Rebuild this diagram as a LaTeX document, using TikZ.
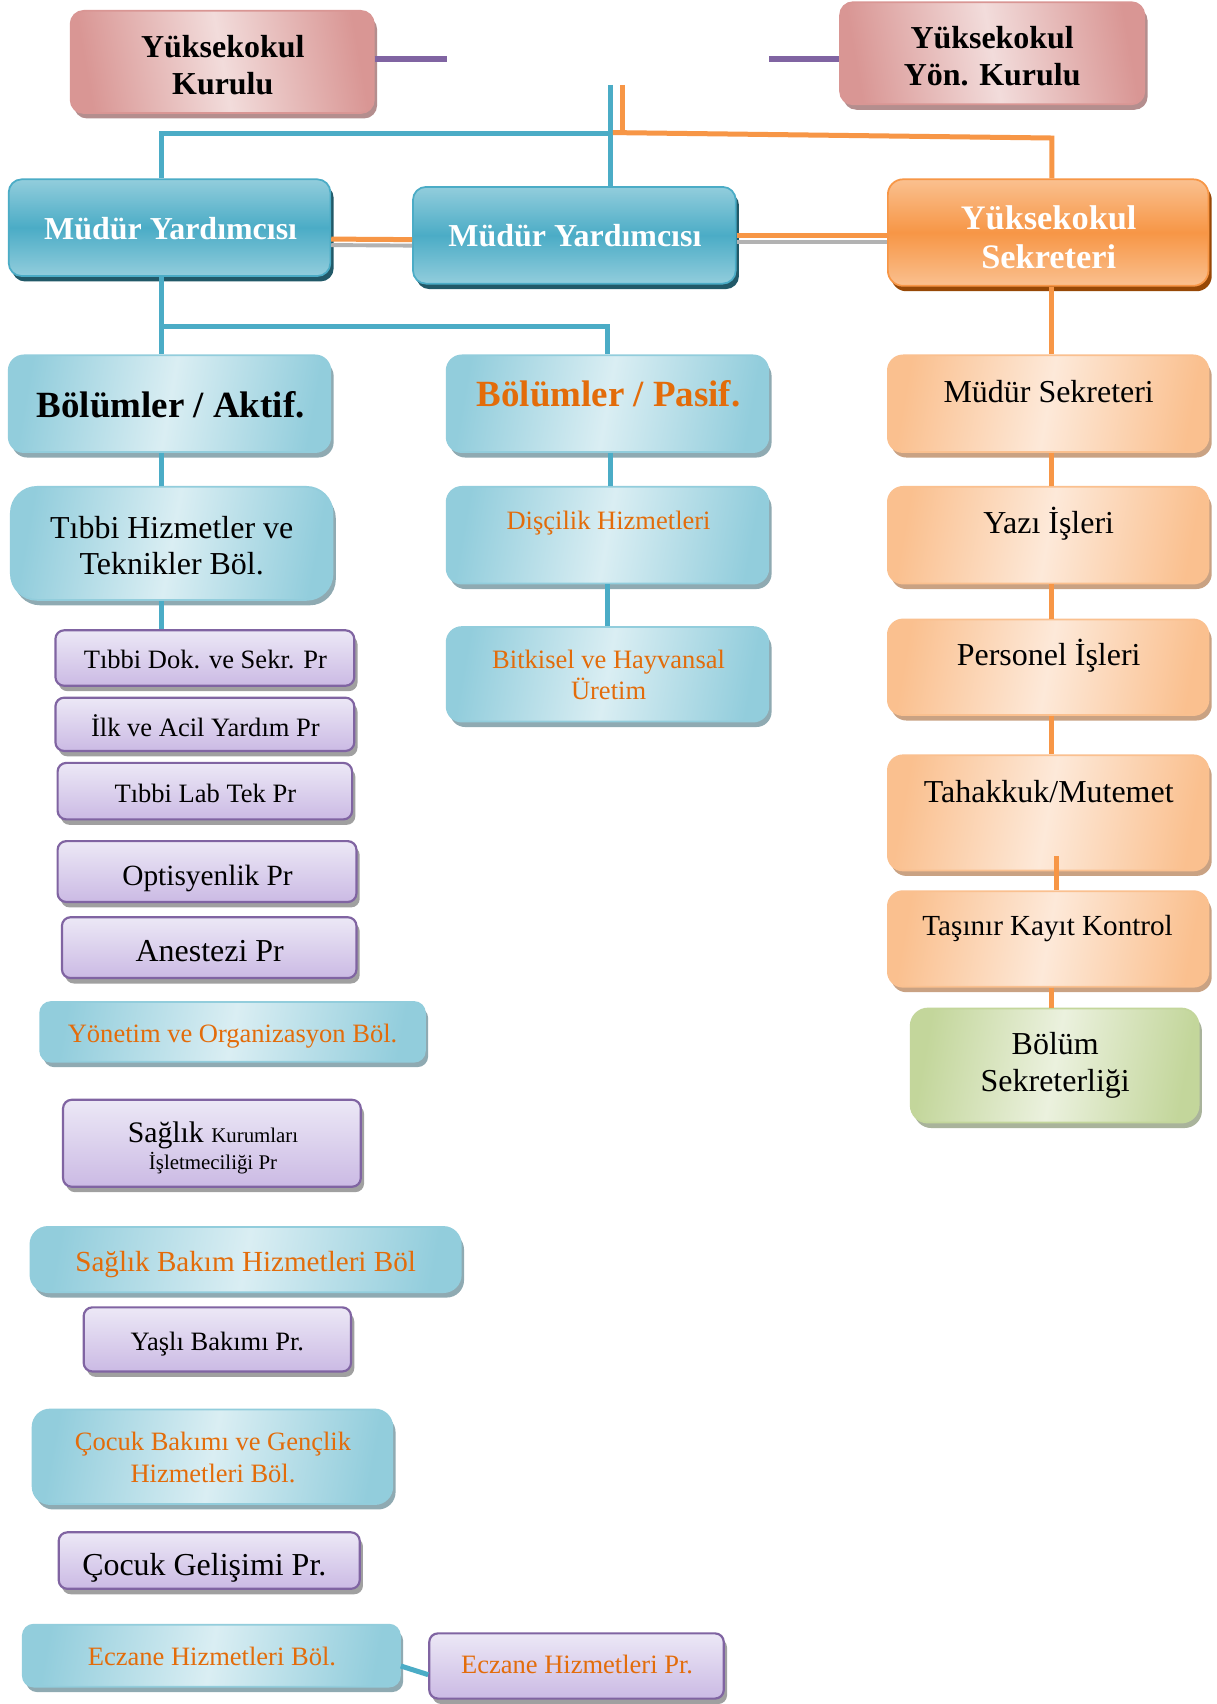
\documentclass[tikz,border=0pt]{standalone}
\usepackage{fontspec}
\setmainfont{Liberation Serif}
\usetikzlibrary{shadows,calc}
\definecolor{aqua}{HTML}{4BACC6}
\definecolor{aquaL}{HTML}{92CDDC}
\definecolor{aquaLL}{HTML}{DAEEF3}
\definecolor{aquaD}{HTML}{215968}
\definecolor{orng}{HTML}{F79646}
\definecolor{orngL}{HTML}{FAC08F}
\definecolor{orngLL}{HTML}{FDE9D9}
\definecolor{orngD}{HTML}{974806}
\definecolor{orngS}{HTML}{C9A283}
\definecolor{pinkD}{HTML}{D99694}
\definecolor{pinkL}{HTML}{F2DCDB}
\definecolor{pinkS}{HTML}{B48E8E}
\definecolor{purp}{HTML}{8064A2}
\definecolor{purpT}{HTML}{ECE8F6}
\definecolor{purpB}{HTML}{CBBAE4}
\definecolor{grn}{HTML}{C3D69B}
\definecolor{grnL}{HTML}{EBF1DE}
\definecolor{grnS}{HTML}{A9B39B}
\definecolor{blueS}{HTML}{8FAAB2}
\definecolor{grayS}{HTML}{A0A0A0}
\definecolor{otext}{HTML}{E36C0A}
\newcommand\mkbox[6]{\node[#2, minimum width={(#5-#3)*0.5pt}, minimum height={(#6-#4)*0.5pt}] (#1) at ({(#3+#5)/2},{(#4+#6)/2}) {};}
\newcommand\mktext[5]{\node[#2] (#1) at (#3,#4) {#5};}
\tikzset{
 boxbase/.style={rectangle, rounded corners=#1, inner sep=0pt},
 shad/.style={drop shadow={shadow xshift=1.5pt, shadow yshift=-2.5pt, fill=#1, opacity=1}},
 pinkbox/.style={boxbase=6pt, draw=pinkD, line width=0.8pt, left color=pinkD, right color=pinkD, middle color=pinkL, shading angle=100, shad=pinkS},
 darkblue/.style={boxbase=6pt, draw=aqua, line width=0.8pt, top color=aquaL, bottom color=aquaL, middle color=aqua, shad=aquaD},
 darkorng/.style={boxbase=7pt, draw=orng, line width=0.8pt, top color=orngL, bottom color=orngL, middle color=orng, shad=orngD},
 lblue/.style={boxbase=#1, draw=aquaL, line width=0.8pt, left color=aquaL, right color=aquaL, middle color=aquaLL, shading angle=80, shad=blueS},
 lblue/.default=7pt,
 lorng/.style={boxbase=7pt, draw=orngL, line width=0.8pt, left color=orngL, right color=orngL, middle color=orngLL, shading angle=80, shad=orngS},
 purpbox/.style={boxbase=4pt, draw=purp, line width=1pt, top color=purpT, bottom color=purpB, shad=grayS},
 grnbox/.style={boxbase=8pt, draw=grn, line width=0.8pt, left color=grn, right color=grn, middle color=grnL, shading angle=80, shad=grnS},
 txt/.style={inner sep=0pt, align=center},
 tA/.style={txt, font=\fontsize{14.7}{17}\selectfont},
 tAb/.style={txt, font=\bfseries\fontsize{14.7}{17}\selectfont},
 tB/.style={txt, font=\fontsize{12.2}{14.5}\selectfont},
 tC/.style={txt, font=\bfseries\fontsize{17}{20}\selectfont},
 tD/.style={txt, font=\bfseries\fontsize{15.8}{18}\selectfont},
 cblue/.style={draw=aqua, line width=2.3pt},
 corng/.style={draw=orng, line width=2.3pt},
 cpurp/.style={draw=purp, line width=2.6pt},
 cgray/.style={draw=black!30, line width=1.8pt},
}
\begin{document}
\begin{tikzpicture}[x=0.5pt,y=-0.5pt]
\fill[white] (0,0) rectangle (1119,1568);
\useasboundingbox (0,0) rectangle (1119,1568);
% boxes
\mkbox{ykurul}{pinkbox}{65}{10}{344}{104}
\mkbox{yonk}{pinkbox}{773}{2}{1053}{96}
\mkbox{myL}{darkblue}{8}{165}{304}{254}
\mkbox{myM}{darkblue}{380}{172}{677}{261}
\mkbox{sek}{darkorng}{817}{165}{1112}{263}
\mkbox{aktif}{lblue}{8}{327}{304}{416}
\mkbox{pasif}{lblue}{411}{327}{707}{416}
\mkbox{ms}{lorng}{817}{327}{1112}{416}
\mkbox{yazi}{lorng}{817}{448}{1112}{537}
\mkbox{pers}{lorng}{817}{570}{1112}{658}
\mkbox{tah}{lorng}{817}{695}{1112}{801}
\mkbox{tas}{lorng}{817}{820}{1112}{908}
\mkbox{bsek}{grnbox}{838}{928}{1103}{1033}
\mkbox{tibbi}{lblue=12pt}{10}{448}{306}{552}
\mkbox{p1}{purpbox}{51}{580}{326}{631}
\mkbox{p2}{purpbox}{51}{642}{326}{691}
\mkbox{p3}{purpbox}{53}{702}{324}{754}
\mkbox{p4}{purpbox}{53}{774}{328}{830}
\mkbox{p5}{purpbox}{57}{844}{328}{900}
\mkbox{yon}{lblue=5pt}{37}{922}{391}{977}
\mkbox{skip}{purpbox}{58}{1012}{332}{1092}
\mkbox{sbak}{lblue=8pt}{28}{1129}{424}{1189}
\mkbox{yasli}{purpbox}{77}{1203}{323}{1262}
\mkbox{cbak}{lblue=8pt}{30}{1297}{361}{1384}
\mkbox{cgel}{purpbox}{54}{1410}{331}{1462}
\mkbox{eczB}{lblue=5pt}{21}{1495}{368}{1552}
\mkbox{eczP}{purpbox}{395}{1503}{666}{1563}
\mkbox{disci}{lblue}{411}{448}{707}{537}
\mkbox{bitki}{lblue}{411}{577}{707}{664}
% texts
\mktext{t-ykurul}{tAb}{205}{60}{Yüksekokul\\Kurulu}
\mktext{t-yonk}{tAb}{913}{52}{Yüksekokul\\Yön. Kurulu}
\mktext{t-myL}{tAb,text=white}{157}{210}{Müdür Yardımcısı}
\mktext{t-myM}{tAb,text=white}{529}{217}{Müdür Yardımcısı}
\mktext{t-sek}{tD,text=white}{965}{218}{Yüksekokul\\Sekreteri}
\mktext{t-aktif}{tC}{157}{372}{Bölümler / Aktif.}
\mktext{t-pasif}{tC,text=otext}{560}{362}{Bölümler / Pasif.}
\mktext{t-ms}{tA}{965}{360}{Müdür Sekreteri}
\mktext{t-yazi}{tA}{965}{482}{Yazı İşleri}
\mktext{t-pers}{tA}{965}{603}{Personel İşleri}
\mktext{t-tah}{tA}{965}{728}{Tahakkuk/Mutemet}
\mktext{t-tas}{tA,font=\fontsize{13.4}{16}\selectfont}{964}{854}{Taşınır Kayıt Kontrol}
\mktext{t-bsek}{tA}{971}{980}{Bölüm\\Sekreterliği}
\mktext{t-tibbi}{tA,font=\fontsize{14.7}{16.5}\selectfont}{158}{502}{Tıbbi Hizmetler ve\\Teknikler Böl.}
\mktext{t-p1}{tB}{189}{607}{Tıbbi Dok. ve Sekr. Pr}
\mktext{t-p2}{tB}{189}{668}{İlk ve Acil Yardım Pr}
\mktext{t-p3}{tB}{189}{730}{Tıbbi Lab Tek Pr}
\mktext{t-p4}{tA,font=\fontsize{13.5}{16}\selectfont}{191}{808}{Optisyenlik Pr}
\mktext{t-p5}{tA}{193}{875}{Anestezi Pr}
\mktext{t-yon}{tB,text=otext}{214}{953}{Yönetim ve Organizasyon Böl.}
\mktext{t-skip}{txt,font=\fontsize{13.7}{12.5}\selectfont}{196}{1056}{Sağlık {\fontsize{9.6}{12.5}\selectfont Kurumları}\\{\fontsize{9.6}{12.5}\selectfont İşletmeciliği Pr}}
\mktext{t-sbak}{tA,font=\fontsize{13.4}{16}\selectfont,text=otext}{226}{1164}{Sağlık Bakım Hizmetleri Böl}
\mktext{t-yasli}{tB}{200}{1237}{Yaşlı Bakımı Pr.}
\mktext{t-cbak}{tB,text=otext}{196}{1341}{Çocuk Bakımı ve Gençlik\\Hizmetleri Böl.}
\mktext{t-cgel}{tA}{188}{1443}{Çocuk Gelişimi Pr.}
\mktext{t-eczB}{tB,text=otext}{195}{1524}{Eczane Hizmetleri Böl.}
\mktext{t-eczP}{tB,text=otext}{531}{1532}{Eczane Hizmetleri Pr.}
\mktext{t-disci}{tB,text=otext}{560}{481}{Dişçilik Hizmetleri}
\mktext{t-bitki}{tB,text=otext,font=\fontsize{12.2}{14}\selectfont}{560}{621}{Bitkisel ve Hayvansal\\Üretim}
% column coordinates
\coordinate (cL) at (149,0);
\coordinate (cM) at (562,0);
\coordinate (cM2) at (559,0);
\coordinate (cR) at (968,0);
\coordinate (cR2) at (972,0);
% top connectors
\coordinate (pL) at (411,54);
\coordinate (pR) at (708,54);
\draw[cpurp] (ykurul.east |- pL) -- (pL);
\draw[cpurp] (pR) -- (yonk.west |- pR);
\coordinate (topB) at (562,78);
\coordinate (topO) at (573,78);
\coordinate (jB) at (562,123);
\coordinate (oJ) at (573,122);
\coordinate (oJ0) at (564,122);
\coordinate (oK) at (968,127);
\draw[cblue] (topB) -- (myM.north -| topB);
\draw[cblue] (jB) -| (myL.north -| cL);
\draw[corng] (topO) -- (oJ);
\draw[corng] (oJ0) -- (oK) -- (sek.north -| oK);
% between Müdür boxes
\draw[cgray] ($(myL.east)+(0,16)$) -- ($(myM.west)+(0,9.5)$);
\draw[corng] ($(myL.east)+(0,10.5)$) -- ($(myM.west)+(0,4)$);
\draw[cgray] ($(myM.east)+(0,6)$) -- ($(myM.east -| sek.west)+(0,6)$);
\draw[corng] ($(myM.east)+(0,0.5)$) -- ($(myM.east -| sek.west)+(0,0.5)$);
% left blue tree
\coordinate (bJ) at (149,300);
\draw[cblue] (myL.south -| cL) -- (aktif.north -| cL);
\draw[cblue] (bJ) -| (pasif.north -| cM2);
\draw[cblue] (aktif.south -| cL) -- (tibbi.north -| cL);
\draw[cblue] (tibbi.south -| cL) -- (p1.north -| cL);
\draw[cblue] (pasif.south -| cM) -- (disci.north -| cM);
\draw[cblue] (disci.south -| cM2) -- (bitki.north -| cM2);
\draw[cblue] ($(eczB.east)+(0,9.5)$) -- ($(eczP.west)+(0,8)$);
% right orange column
\draw[corng] (sek.south -| cR) -- (ms.north -| cR);
\draw[corng] (ms.south -| cR) -- (yazi.north -| cR);
\draw[corng] (yazi.south -| cR) -- (pers.north -| cR);
\draw[corng] (pers.south -| cR) -- (tah.north -| cR);
\draw[corng] ($(tah.south -| cR2)+(0,-14)$) -- (tas.north -| cR2);
\draw[corng] (tas.south -| cR) -- (bsek.north -| cR);
\end{tikzpicture}
\end{document}
